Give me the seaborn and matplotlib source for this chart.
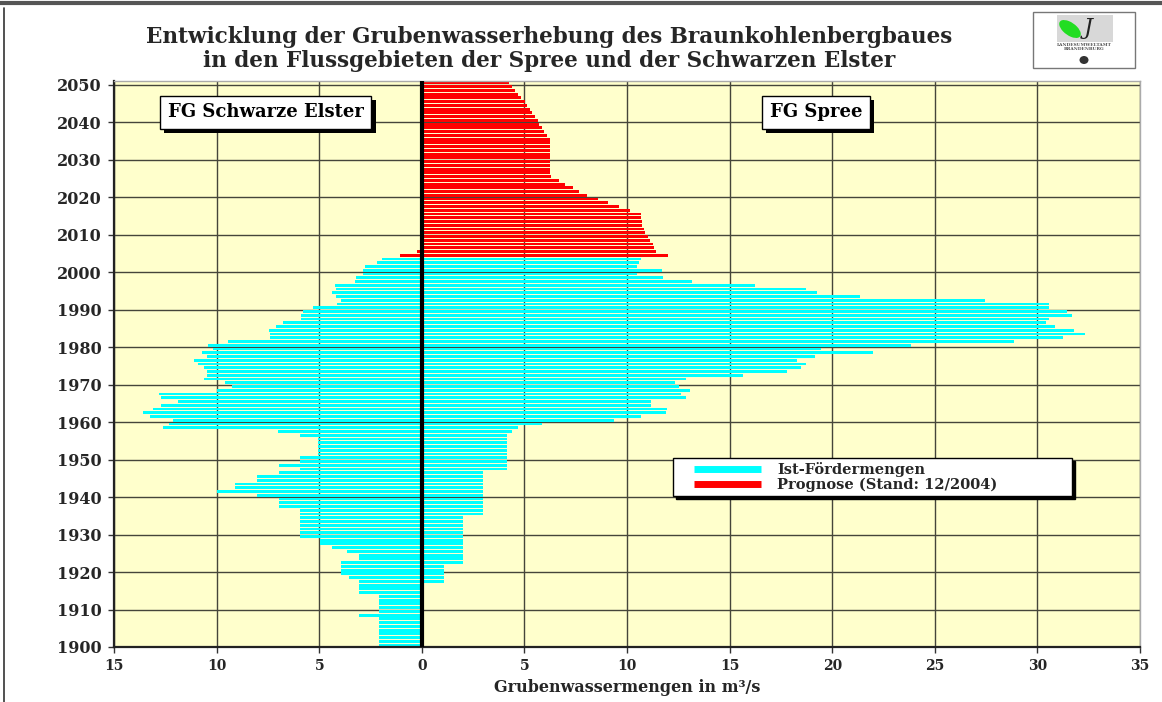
import numpy as np
import pandas as pd
import matplotlib
matplotlib.use("Agg")
import matplotlib.pyplot as plt
import seaborn as sns
from matplotlib.lines import Line2D
from matplotlib.legend_handler import HandlerLine2D
from matplotlib import patheffects
from matplotlib.patches import Rectangle, Ellipse

# years 1900..2050, one bar per year
years = list(range(1900, 2051))
last_actual_year = 2003

# FG Schwarze Elster (drawn to the left), m3/s, one row per decade
elster = [
    2.07, 2.07, 2.07, 2.07, 2.07, 2.07, 2.07, 2.07, 3.04, 2.07,        # 1900
    2.07, 2.07, 2.07, 2.07, 3.04, 3.04, 3.04, 3.04, 3.56, 3.92,        # 1910
    3.92, 3.92, 3.92, 3.04, 3.04, 3.64, 4.39, 4.98, 4.98, 5.95,        # 1920
    5.95, 5.95, 5.95, 5.95, 5.95, 5.95, 5.95, 6.97, 6.97, 6.97,        # 1930
    8.03, 9.97, 9.08, 9.08, 8.03, 8.03, 6.97, 5.95, 6.97, 5.95,        # 1940
    5.96, 5.06, 5.06, 5.06, 5.06, 5.06, 5.96, 7.03, 12.63, 12.34,      # 1950
    12.11, 13.23, 13.6, 13.08, 12.69, 11.88, 12.69, 12.79, 10.0, 9.27, # 1960
    9.58, 10.6, 10.47, 10.47, 10.62, 10.93, 11.08, 10.49, 10.7, 10.18, # 1970
    10.41, 9.43, 7.39, 7.39, 7.47, 7.09, 6.78, 5.88, 5.88, 5.8,        # 1980
    5.28, 4.13, 3.92, 4.17, 4.38, 4.17, 4.23, 3.25, 3.19, 2.86,        # 1990
    2.85, 2.77, 2.2, 1.96, 1.05, 0.25, 0, 0, 0, 0,                     # 2000
    0, 0, 0, 0, 0, 0, 0, 0, 0, 0,                                      # 2010
    0, 0, 0, 0, 0, 0, 0, 0, 0, 0,                                      # 2020
    0, 0, 0, 0, 0, 0, 0, 0, 0, 0,                                      # 2030
    0, 0, 0, 0, 0, 0, 0, 0, 0, 0,                                      # 2040
    0,                                                                 # 2050
]

# FG Spree (drawn to the right), m3/s
spree = [
    0, 0, 0, 0, 0, 0, 0, 0, 0, 0,                                        # 1900
    0, 0, 0, 0, 0, 0, 0, 1.1, 1.1, 1.1,                                  # 1910
    1.1, 1.1, 2.0, 2.0, 2.0, 2.0, 2.0, 2.0, 2.0, 2.0,                    # 1920
    2.0, 2.0, 2.0, 2.0, 2.0, 3.0, 3.0, 3.0, 3.0, 3.0,                    # 1930
    3.0, 3.0, 3.0, 3.0, 3.0, 3.0, 3.0, 4.17, 4.17, 4.17,                 # 1940
    4.17, 4.17, 4.17, 4.17, 4.17, 4.17, 4.17, 4.42, 4.67, 5.85,          # 1950
    9.36, 10.7, 11.89, 11.97, 11.17, 11.17, 12.89, 12.65, 13.09, 12.51,  # 1960
    12.35, 12.89, 15.64, 17.81, 18.48, 18.7, 18.27, 19.15, 21.98, 19.44, # 1970
    23.85, 28.85, 31.23, 32.3, 31.76, 30.86, 30.4, 30.57, 31.67, 31.46,  # 1980
    30.57, 30.57, 27.44, 21.34, 19.28, 18.7, 16.24, 13.16, 11.77, 10.48, # 1990
    11.7, 10.5, 10.58, 10.66, 12.0, 11.39, 11.33, 11.26, 11.12, 11.04,   # 2000
    10.87, 10.81, 10.74, 10.71, 10.66, 10.66, 10.13, 9.61, 9.09, 8.58,   # 2010
    8.06, 7.67, 7.38, 6.99, 6.7, 6.3, 6.26, 6.26, 6.26, 6.26,            # 2020
    6.26, 6.26, 6.26, 6.26, 6.26, 6.26, 6.08, 5.95, 5.86, 5.7,           # 2030
    5.66, 5.5, 5.37, 5.29, 5.15, 5.05, 4.82, 4.68, 4.53, 4.4,            # 2040
    4.24,                                                                # 2050
]

xticks = [-15, -10, -5, 0, 5, 10, 15, 20, 25, 30, 35]
xtick_labels = ['15', '10', '5', '0', '5', '10', '15', '20', '25', '30', '35']
ytick_years = list(range(1900, 2051, 10))

title_lines = ['Entwicklung der Grubenwasserhebung des Braunkohlenbergbaues',
               'in den Flussgebieten der Spree und der Schwarzen Elster']
xlabel = 'Grubenwassermengen in m³/s'
region_labels = ['FG Schwarze Elster', 'FG Spree']
legend_labels = ['Ist-Fördermengen', 'Prognose (Stand: 12/2004)']
bar_colors = ['#00FFFF', '#FF0000']

df = pd.DataFrame({'year': years, 'Schwarze Elster': elster, 'Spree': spree})
df['elster_left'] = -df['Schwarze Elster']
df['Phase'] = np.where(df['year'] <= last_actual_year, legend_labels[0], legend_labels[1])
pal = dict(zip(legend_labels, bar_colors))

sns.set_style('ticks')
plt.rcParams['font.family'] = ['DejaVu Serif']
plt.rcParams['font.weight'] = 'bold'

fig = plt.figure(figsize=(11.62, 7.02), dpi=100)
ax = fig.add_axes([114 / 1162, 1 - 647 / 702, 1026 / 1162, 566 / 702])
ax.set_facecolor('#FFFFCC')

for col in ['elster_left', 'Spree']:
    sns.barplot(data=df, x=col, y='year', hue='Phase', palette=pal, orient='y',
                native_scale=True, width=0.76, dodge=False, errorbar=None,
                legend=False, linewidth=0, saturation=1, ax=ax)

ax.axvline(0, color='black', lw=3, zorder=5)

ax.set_xlim(-15, 35)
ax.set_ylim(1899.5, 2050.5)
ax.set_xticks(xticks)
ax.set_xticklabels(xtick_labels, fontsize=10, fontweight='bold')
ax.set_yticks([y - 0.5 for y in ytick_years])
ax.set_yticklabels([str(y) for y in ytick_years], fontsize=11.5, fontweight='bold')
ax.set_xlabel(xlabel, fontsize=11.5, fontweight='bold', labelpad=4)
ax.set_ylabel('')
ax.tick_params(axis='both', direction='out', length=4, width=1, color='#333333', pad=5)

ax.set_axisbelow(True)
ax.grid(True, color='#45453a', lw=1)
for side in ['left', 'bottom']:
    ax.spines[side].set_color('#222222')
    ax.spines[side].set_linewidth(1.6)
for side in ['top', 'right']:
    ax.spines[side].set_color('#aaaaaa')
    ax.spines[side].set_linewidth(1)

box_shadow = [patheffects.SimplePatchShadow(offset=(3, -3), shadow_rgbFace='black', alpha=1),
              patheffects.Normal()]
for xpos, label in zip([0.148, 0.684], region_labels):
    t = ax.text(xpos, 0.945, label, transform=ax.transAxes, ha='center', va='center',
                fontsize=13, fontweight='bold', color='black', zorder=9,
                bbox=dict(boxstyle='square,pad=0.42', fc='white', ec='black', lw=1))
    t.get_bbox_patch().set_path_effects(box_shadow)

handles = [Line2D([0], [0], color=c, lw=5, solid_capstyle='butt') for c in bar_colors]
leg = ax.legend(handles, legend_labels, loc='lower left',
                bbox_to_anchor=(0.545, 0.267, 0.389, 0.062), mode='expand',
                borderaxespad=0, frameon=True, fancybox=False,
                shadow={'color': 'black', 'alpha': 1},
                prop={'size': 10.5, 'weight': 'bold'}, handlelength=5.8,
                handler_map={Line2D: HandlerLine2D(xpad=1.2)},
                handletextpad=1.1, labelspacing=0.05, borderpad=0.25)
leg.get_frame().set_edgecolor('black')
leg.get_frame().set_linewidth(1)
leg.get_frame().set_facecolor('white')
leg.set_zorder(10)

fig.text(549 / 1162, 1 - 37 / 702, title_lines[0], ha='center', va='center',
         fontsize=15.5, fontweight='bold')
fig.text(549 / 1162, 1 - 61 / 702, title_lines[1], ha='center', va='center',
         fontsize=15.5, fontweight='bold')

# page frame lines
fig.add_artist(Line2D([0, 1], [1 - 3 / 702, 1 - 3 / 702], color='#555555', lw=3))
fig.add_artist(Line2D([4 / 1162, 4 / 1162], [0, 1 - 8 / 702], color='#333333', lw=1.2))

# logo
fig.add_artist(Rectangle((1033 / 1162, 1 - 68 / 702), 102 / 1162, 56 / 702,
                         transform=fig.transFigure, fc='white', ec='#777777', lw=1))
fig.add_artist(Rectangle((1057 / 1162, 1 - 42 / 702), 56 / 1162, 27 / 702,
                         transform=fig.transFigure, fc='#d8d8d8', ec='none'))
fig.add_artist(Ellipse((1070 / 1162, 1 - 29 / 702), 16 / 1162, 20 / 702, angle=30,
                       transform=fig.transFigure, fc='#22dd22', ec='none'))
fig.text(1088 / 1162, 1 - 28 / 702, 'J', fontsize=16, style='italic',
         fontweight='normal', ha='center', va='center', color='#222222')
fig.text(1084 / 1162, 1 - 45 / 702, 'LANDESUMWELTAMT', fontsize=3.2,
         ha='center', va='center', color='#555555')
fig.text(1084 / 1162, 1 - 49 / 702, 'BRANDENBURG', fontsize=3.2,
         ha='center', va='center', color='#555555')
fig.add_artist(Ellipse((1084 / 1162, 1 - 60 / 702), 9 / 1162, 8 / 702,
                       transform=fig.transFigure, fc='#333333', ec='none'))

fig.savefig('out.png', dpi=100)
